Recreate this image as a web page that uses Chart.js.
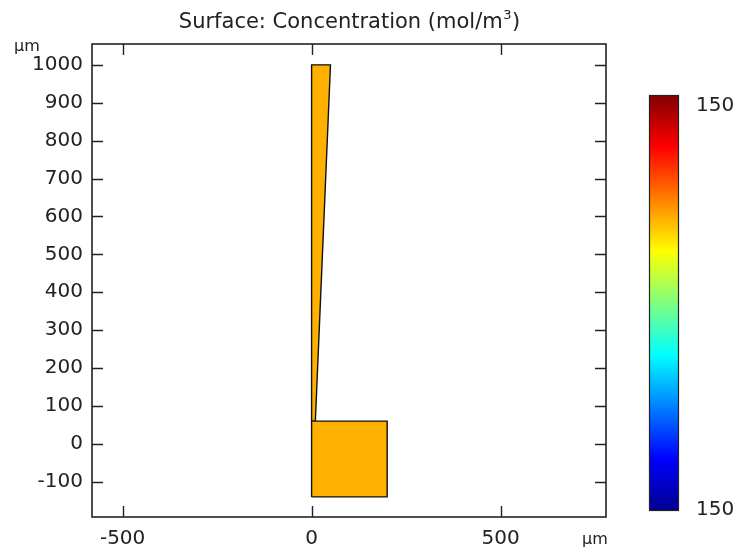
<!DOCTYPE html>
<html><head><meta charset="utf-8">
<script src="https://cdn.jsdelivr.net/npm/chart.js@4/dist/chart.umd.min.js"></script>
<style>html,body{margin:0;padding:0;background:#fff}#wrap{width:739px;height:555px}</style>
</head><body><div id="wrap"><canvas id="c" width="739" height="555"></canvas></div>
<script>
const titleText = "Surface: Concentration (mol/m";
const titleSup = "3";
const unitLabel = "µm";
const xTicks = [-500, 0, 500];
const yTicks = [-100, 0, 100, 200, 300, 400, 500, 600, 700, 800, 900, 1000];
const wedgeX = [0, 10, 50, 0, 0];
const wedgeY = [60, 60, 1000, 1000, 60];
const rectX = [0, 200, 200, 0, 0];
const rectY = [-140, -140, 60, 60, -140];
const colorMin = 150, colorMax = 150;
const jetStops = [[0, '#00008f'], [0.125, '#0000ff'], [0.375, '#00ffff'], [0.5, '#80ff80'], [0.625, '#ffff00'], [0.875, '#ff0000'], [1, '#800000']];
const fillColor = '#ffb000';

const FONT = "'DejaVu Sans', sans-serif";
const toPts = (xs, ys) => xs.map((x, i) => ({x, y: ys[i]}));

const frame = {
  id: 'frame',
  afterDraw(chart) {
    const {ctx, chartArea: a, scales} = chart;
    ctx.save();
    ctx.strokeStyle = '#222'; ctx.lineWidth = 1.6;
    ctx.strokeRect(a.left, a.top, a.right - a.left, a.bottom - a.top);
    const tl = 11;
    ctx.lineWidth = 1.4;
    ctx.beginPath();
    xTicks.forEach(v => { const p = Math.round(scales.x.getPixelForValue(v)) + 0.5;
      ctx.moveTo(p, a.bottom); ctx.lineTo(p, a.bottom - tl);
      ctx.moveTo(p, a.top); ctx.lineTo(p, a.top + tl); });
    yTicks.forEach(v => { const p = Math.round(scales.y.getPixelForValue(v)) + 0.5;
      ctx.moveTo(a.left, p); ctx.lineTo(a.left + tl, p);
      ctx.moveTo(a.right, p); ctx.lineTo(a.right - tl, p); });
    ctx.stroke();
    // title
    ctx.fillStyle = '#222';
    const tf = '21px ' + FONT, sf = '13px ' + FONT;
    ctx.font = tf; const w1 = ctx.measureText(titleText).width; const w3 = ctx.measureText(')').width;
    ctx.font = sf; const w2 = ctx.measureText(titleSup).width;
    const cx = (a.left + a.right) / 2;
    const x0 = cx - (w1 + w2 + w3) / 2;
    ctx.textBaseline = 'alphabetic'; ctx.textAlign = 'left';
    ctx.font = tf; ctx.fillText(titleText, x0, 28);
    ctx.font = sf; ctx.fillText(titleSup, x0 + w1 + 0.5, 19);
    ctx.font = tf; ctx.fillText(')', x0 + w1 + w2 + 1, 28);
    // unit labels
    ctx.font = '16px ' + FONT;
    ctx.fillText(unitLabel, 14, 51);
    ctx.fillText(unitLabel, 582, 544);
    // colorbar
    const cbL = 649, cbR = 679, cbT = 95, cbB = 511;
    const g = ctx.createLinearGradient(0, cbB, 0, cbT);
    jetStops.forEach(s => g.addColorStop(s[0], s[1]));
    ctx.fillStyle = g;
    ctx.fillRect(cbL, cbT, cbR - cbL, cbB - cbT);
    ctx.strokeStyle = '#222'; ctx.lineWidth = 1.2;
    ctx.strokeRect(cbL + 0.5, cbT + 0.5, cbR - cbL - 1, cbB - cbT - 1);
    ctx.fillStyle = '#222';
    ctx.font = '20px ' + FONT;
    ctx.textBaseline = 'middle';
    ctx.fillText(String(colorMax), 696, 106);
    ctx.fillText(String(colorMin), 696, 510);
    ctx.restore();
  }
};

new Chart(document.getElementById('c'), {
  type: 'scatter',
  data: { datasets: [
    { data: toPts(rectX, rectY), showLine: true, fill: 'shape', backgroundColor: fillColor, borderColor: '#111', borderWidth: 1.4, pointRadius: 0, tension: 0 },
    { data: toPts(wedgeX, wedgeY), showLine: true, fill: 'shape', backgroundColor: fillColor, borderColor: '#111', borderWidth: 1.4, pointRadius: 0, tension: 0 }
  ]},
  options: {
    responsive: false, animation: false, devicePixelRatio: 1,
    layout: { padding: { top: 44, right: 133, left: 0, bottom: 0 } },
    plugins: { legend: { display: false }, tooltip: { enabled: false }, title: { display: false } },
    scales: {
      x: { type: 'linear', min: -581, max: 779,
        afterBuildTicks: s => { s.ticks = xTicks.map(v => ({value: v})); },
        afterFit: s => { s.height = 38; },
        grid: { display: false, drawTicks: false }, border: { display: false },
        ticks: { padding: 10, color: '#222', font: { family: FONT, size: 20 }, maxRotation: 0, callback: v => String(v) } },
      y: { type: 'linear', min: -193, max: 1055,
        afterBuildTicks: s => { s.ticks = yTicks.map(v => ({value: v})); },
        afterFit: s => { s.width = 92; },
        grid: { display: false, drawTicks: false }, border: { display: false },
        ticks: { padding: 9, color: '#222', font: { family: FONT, size: 20 }, callback: v => String(v) } }
    }
  },
  plugins: [frame]
});
</script></body></html>
